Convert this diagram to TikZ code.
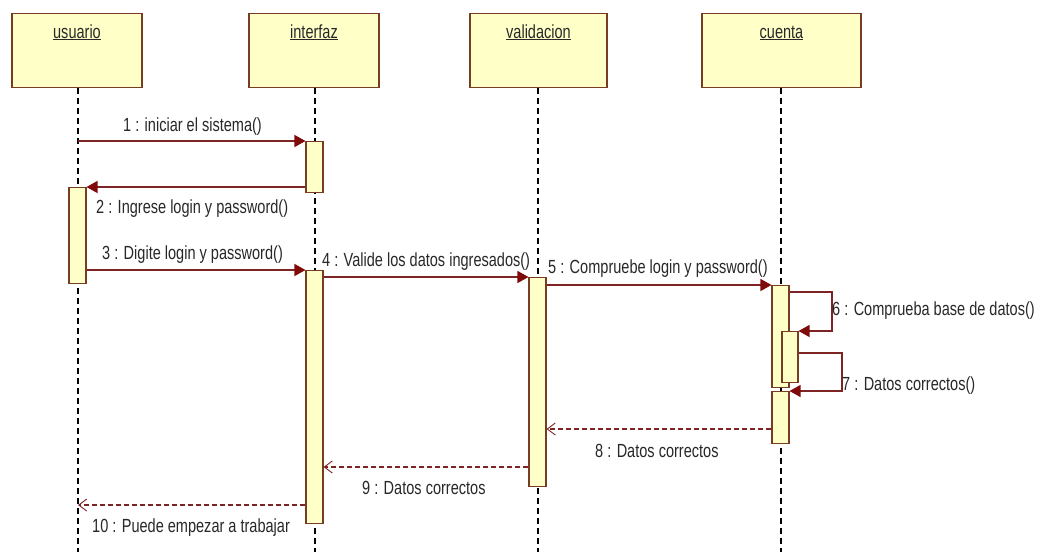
\documentclass[tikz,border=0pt]{standalone}
\usepackage{fontspec}
\setmainfont[FakeStretch=0.765]{Liberation Sans}
\usetikzlibrary{arrows.meta}
\definecolor{boxfill}{RGB}{255,255,200}
\definecolor{boxline}{RGB}{120,60,35}
\definecolor{msgred}{RGB}{128,10,10}
\definecolor{msgline}{RGB}{125,35,35}
\definecolor{txt}{RGB}{40,40,40}
\tikzset{
  objbox/.style={draw=boxline, fill=boxfill, line width=1.3pt, minimum width=#1, minimum height=74pt, inner sep=0pt, anchor=north},
  objname/.style={font=\fontsize{19}{21}\selectfont, text=txt, inner sep=0pt, anchor=base},
  life/.style={draw=black, line width=1.1pt, dash pattern=on 6pt off 4pt},
  actbar/.style={draw=boxline, fill=boxfill, line width=1.1pt, minimum width=17pt, minimum height=#1, inner sep=0pt, anchor=north},
  callmsg/.style={draw=msgline, line width=1.4pt, -{Triangle[length=11pt,width=12pt,fill=msgred,color=msgred]}},
  selfmsg/.style={draw=msgline, line width=1.2pt, -{Triangle[length=11pt,width=12pt,fill=msgred,color=msgred]}},
  retmsg/.style={draw=msgline, line width=1.1pt, dash pattern=on 5pt off 3pt, -{Straight Barb[length=8pt,width=12pt,line width=0.9pt]}},
  msglabel/.style={font=\fontsize{19}{21}\selectfont, text=txt, inner sep=0pt, anchor=base west},
}
\begin{document}
\begin{tikzpicture}[x=1pt,y=-1pt]
\useasboundingbox (0,0) rectangle (1043,552);
\fill[white] (0,0) rectangle (1043,552);
% object boxes
\node[objbox=130pt] (usuario) at (77,13) {};
\node[objbox=130pt] (interfaz) at (314,13) {};
\node[objbox=137pt] (validacion) at (538.5,13) {};
\node[objbox=159pt] (cuenta) at (781.5,13) {};
\node[objname] (nu) at (77,38) {\underline{usuario}};
\node[objname] (ni) at (314,38) {\underline{interfaz}};
\node[objname] (nv) at (538.5,38) {\underline{validacion}};
\node[objname] (nc) at (781.5,38) {\underline{cuenta}};
% lifelines
\coordinate (ue) at (78,552);
\coordinate (ie) at (315,552);
\coordinate (ve) at (538,552);
\coordinate (ce) at (781,552);
\draw[life] (usuario.south -| ue) -- (ue);
\draw[life] (interfaz.south -| ie) -- (ie);
\draw[life] (validacion.south -| ve) -- (ve);
\draw[life] (cuenta.south -| ce) -- (ce);
% activation bars
\node[actbar=51pt] (ia1) at (314.5,141) {};
\node[actbar=96pt] (ua1) at (77.5,187) {};
\node[actbar=253pt] (ia2) at (314.5,270) {};
\node[actbar=209pt] (va1) at (537.5,277) {};
\node[actbar=102pt] (ca1) at (780.5,285) {};
\node[actbar=51pt, minimum width=16pt] (ca2) at (790,331) {};
\node[actbar=52pt] (ca3) at (780.5,391) {};
% coordinates for self-messages
\coordinate (s6a) at (832,292);
\coordinate (s6b) at (832,331);
\coordinate (s7a) at (842,353);
\coordinate (s7b) at (842,391);
% messages
\draw[callmsg] (ia1.north west -| ue) -- (ia1.north west);
\draw[callmsg] (ua1.north east -| ia1.west) -- (ua1.north east);
\draw[callmsg] (ua1.east |- ia2.north) -- (ia2.north west);
\draw[callmsg] (ia2.east |- va1.north) -- (va1.north west);
\draw[callmsg] (va1.east |- ca1.north) -- (ca1.north west);
\draw[selfmsg] (ca1.east |- s6a) -- (s6a) -- (s6b) -- (ca2.north east);
\draw[selfmsg] (ca2.east |- s7a) -- (s7a) -- (s7b) -- (ca3.north east);
\coordinate (y8) at (0,429);
\coordinate (y9) at (0,467);
\coordinate (y10) at (0,505);
\draw[retmsg] (ca3.west |- y8) -- (va1.east |- y8);
\draw[retmsg] (va1.west |- y9) -- (ia2.east |- y9);
\draw[retmsg] (ia2.west |- y10) -- (ue |- y10);
% labels
\node[msglabel] (l1) at (123,131) {1 : iniciar el sistema()};
\node[msglabel] (l2) at (96,213) {2 : Ingrese login y password()};
\node[msglabel] (l3) at (102,259) {3 : Digite login y password()};
\node[msglabel] (l4) at (322,266) {4 : Valide los datos ingresados()};
\node[msglabel] (l5) at (548,273) {5 : Compruebe login y password()};
\node[msglabel] (l6) at (832,315) {6 : Comprueba base de datos()};
\node[msglabel] (l7) at (842,390) {7 : Datos correctos()};
\node[msglabel] (l8) at (595,457) {8 : Datos correctos};
\node[msglabel] (l9) at (362,494) {9 : Datos correctos};
\node[msglabel] (l10) at (92,532) {10 : Puede empezar a trabajar};
\end{tikzpicture}
\end{document}
